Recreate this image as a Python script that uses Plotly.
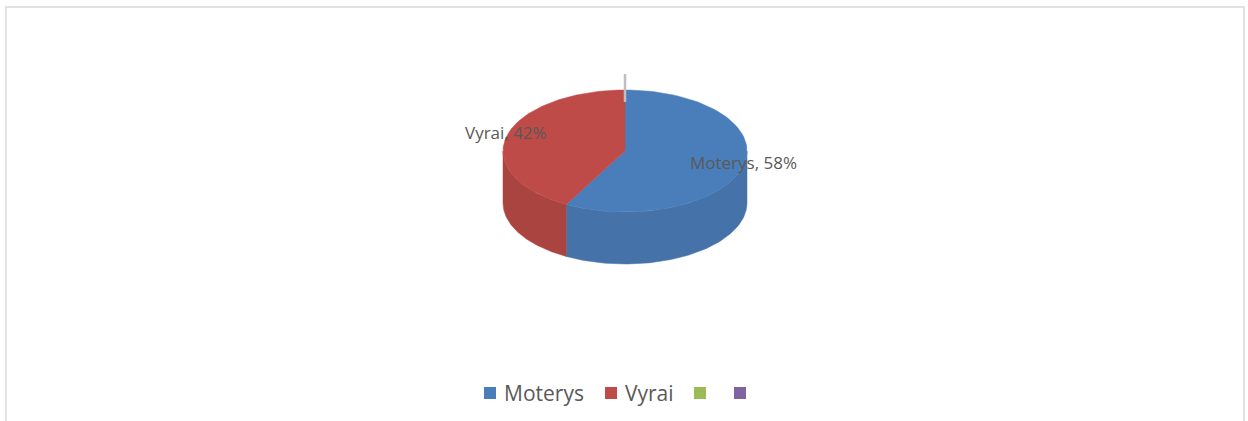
import math
import plotly.graph_objects as go

categories = ["Moterys", "Vyrai", " ", "  "]
values = [58, 42, 0, 0]
top_colors = ["#4A7EBB", "#BE4B48", "#9BBB59", "#8064A2"]
side_colors = ["#4572A9", "#A94441"]
legend_x = [490, 611, 700, 740]

W, H = 1248, 421
CX, CY, RX, RY, DEPTH = 625, 151, 122, 61, 52
total = sum(values)
FONT = "Open Sans"
TXT = "#595959"


def pt(t, dy=0):
    return CX + RX * math.sin(t), CY - RY * math.cos(t) + dy


def arc(a, b, dy=0, n=90):
    pts = [pt(a + (b - a) * i / n, dy) for i in range(n + 1)]
    return [p[0] for p in pts], [p[1] for p in pts]


fig = go.Figure()

# slices: walk clockwise from 12 o'clock
start = 0.0
spans = []
for v in values[:2]:
    end = start + 2 * math.pi * v / total
    spans.append((start, end))
    start = end

# side walls (only the front half of the rim, pi/2 .. 3pi/2, is visible)
for (a, b), col in zip(spans, side_colors):
    lo, hi = max(a, math.pi / 2), min(b, 3 * math.pi / 2)
    if lo < hi:
        x1, y1 = arc(lo, hi)
        x2, y2 = arc(hi, lo, DEPTH)
        fig.add_trace(go.Scatter(x=x1 + x2 + x1[:1], y=y1 + y2 + y1[:1], mode="lines",
                                 fill="toself", fillcolor=col, line=dict(color=col, width=0.5),
                                 hoverinfo="skip", showlegend=False))

# top faces
for (a, b), col in zip(spans, top_colors):
    x1, y1 = arc(a, b)
    fig.add_trace(go.Scatter(x=[CX] + x1 + [CX], y=[CY] + y1 + [CY], mode="lines",
                             fill="toself", fillcolor=col, line=dict(color=col, width=0.5),
                             hoverinfo="skip", showlegend=False))

# leader line of the empty slices
fig.add_trace(go.Scatter(x=[CX, CX], y=[74, 102], mode="lines",
                         line=dict(color="#BFBFBF", width=2.5),
                         hoverinfo="skip", showlegend=False))

# legend
fig.add_trace(go.Scatter(x=legend_x, y=[393] * 4, mode="markers",
                         marker=dict(symbol="square", size=12, color=top_colors),
                         hoverinfo="skip", showlegend=False))

annotations = [
    dict(x=x + 12, y=393, text=c.strip(), showarrow=False, xanchor="left", yanchor="middle",
         font=dict(family=FONT, size=21, color=TXT))
    for x, c in zip(legend_x, categories) if c.strip()
]
label_pos = [(688, 162), (463, 132)]
for (x, y), c, v in zip(label_pos, categories, values):
    annotations.append(dict(x=x, y=y, text=f"{c}, {round(100 * v / total)}%", showarrow=False,
                            xanchor="left", yanchor="middle",
                            font=dict(family=FONT, size=17, color=TXT)))

border = dict(type="rect", x0=6, y0=7, x1=1244, y1=440, line=dict(color="#E2E2E2", width=2),
              fillcolor="rgba(0,0,0,0)")

fig.update_layout(
    width=W, height=H, margin=dict(l=0, r=0, t=0, b=0),
    paper_bgcolor="white", plot_bgcolor="white", showlegend=False,
    xaxis=dict(range=[0, W], visible=False, fixedrange=True),
    yaxis=dict(range=[H, 0], visible=False, fixedrange=True),
    annotations=annotations, shapes=[border],
)
fig.write_html("out.html", config=dict(displayModeBar=False),
               post_script="document.body.style.margin='0';")
